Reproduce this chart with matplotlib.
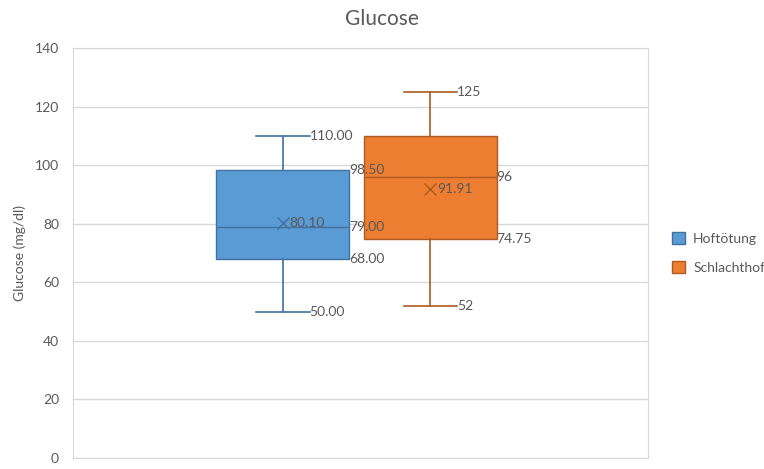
import matplotlib.pyplot as plt
from matplotlib.patches import Patch

# box statistics
series = ['Hoftötung', 'Schlachthof']
mins = [50, 52]
q1s = [68, 74.75]
medians = [79, 96]
q3s = [98.5, 110]
maxs = [110, 125]
means = [80.10, 91.91]
label_fmt = ['{:.2f}', '{:g}']
show_q3_label = [True, False]

fill_colors = ['#5B9BD5', '#ED7D31']
edge_colors = ['#41719C', '#AE5A21']
text_color = '#595959'

plt.rcParams['font.family'] = ['Lato', 'DejaVu Sans']

fig = plt.figure(figsize=(7.64, 4.69), dpi=100)
ax = fig.add_axes([0.0955, 0.0235, 0.753, 0.874])

positions = [0.365, 0.621]
width = 0.231

handles = []
for i, name in enumerate(series):
    stats = [{'whislo': mins[i], 'q1': q1s[i], 'med': medians[i],
              'q3': q3s[i], 'whishi': maxs[i], 'mean': means[i], 'label': name}]
    ec = edge_colors[i]
    ax.bxp(stats, positions=[positions[i]], widths=width, patch_artist=True,
           showfliers=False, showmeans=True, manage_ticks=False,
           boxprops=dict(facecolor=fill_colors[i], edgecolor=ec, linewidth=1),
           medianprops=dict(color=ec, linewidth=1),
           whiskerprops=dict(color=ec, linewidth=1.2),
           capprops=dict(color=ec, linewidth=1.2),
           capwidths=width * 0.4,
           meanprops=dict(marker='x', markeredgecolor=ec, markersize=9,
                          markeredgewidth=1))
    fmt = label_fmt[i]
    right = positions[i] + width / 2
    cap_right = positions[i] + width * 0.2
    ax.text(cap_right, maxs[i], fmt.format(maxs[i]), va='center', ha='left',
            fontsize=10, color=text_color)
    ax.text(cap_right, mins[i], fmt.format(mins[i]), va='center', ha='left',
            fontsize=10, color=text_color)
    vals = [medians[i], q1s[i]]
    if show_q3_label[i]:
        vals.append(q3s[i])
    for v in vals:
        ax.text(right, v, fmt.format(v), va='center', ha='left',
                fontsize=10, color=text_color)
    ax.text(positions[i] + 0.012, means[i], '{:.2f}'.format(means[i]),
            va='center', ha='left', fontsize=10, color=text_color)
    handles.append(Patch(facecolor=fill_colors[i], edgecolor=ec, label=name))

ax.set_xlim(0, 1)
ax.set_ylim(0, 140)
ax.set_yticks(range(0, 141, 20))
ax.set_xticks([])
ax.yaxis.grid(True, color='#D9D9D9', linewidth=1)
ax.set_axisbelow(True)
ax.tick_params(axis='y', length=0, labelsize=10, labelcolor=text_color, pad=10)
for s in ax.spines.values():
    s.set_color('#D9D9D9')
ax.set_ylabel('Glucose (mg/dl)', fontsize=10, color=text_color, labelpad=6)
fig.suptitle('Glucose', fontsize=15, color=text_color, y=0.98)

leg = ax.legend(handles=handles, loc='center left', bbox_to_anchor=(1.02, 0.5),
                frameon=False, fontsize=10, handlelength=0.9, handleheight=0.9,
                labelspacing=1.2, handletextpad=0.6)
for t in leg.get_texts():
    t.set_color(text_color)

fig.savefig('out.png', dpi=100)
